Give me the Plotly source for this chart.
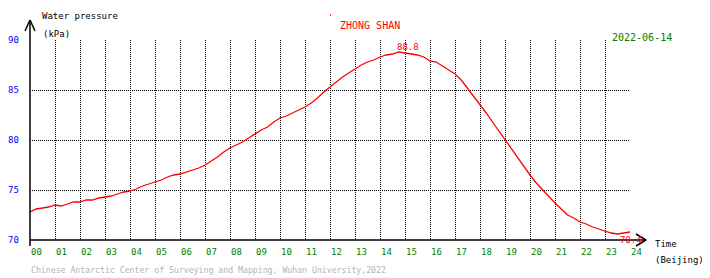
import plotly.graph_objects as go

# ---- data ----
hours = [i * 0.25 for i in range(97)]
pressure = [
    72.8, 73.1, 73.2, 73.3,
    73.5, 73.4, 73.6, 73.8,
    73.8, 74.0, 74.0, 74.2,
    74.3, 74.4, 74.6, 74.8,
    74.9, 75.1, 75.4, 75.6,
    75.8, 76.0, 76.3, 76.5,
    76.6, 76.8, 77.0, 77.2,
    77.5, 77.9, 78.3, 78.8,
    79.2, 79.5, 79.8, 80.2,
    80.6, 81.0, 81.3, 81.8,
    82.2, 82.4, 82.7, 83.0,
    83.3, 83.7, 84.2, 84.8,
    85.3, 85.8, 86.3, 86.7,
    87.1, 87.5, 87.8, 88.0,
    88.3, 88.5, 88.6, 88.8,
    88.7, 88.6, 88.5, 88.3,
    87.9, 87.8, 87.4, 87.0,
    86.6, 86.0, 85.2, 84.4,
    83.5, 82.7, 81.8, 80.9,
    80.0, 79.1, 78.3, 77.3,
    76.5, 75.7, 75.0, 74.3,
    73.7, 73.1, 72.5, 72.2,
    71.8, 71.6, 71.3, 71.1,
    70.9, 70.7, 70.6, 70.7,
    70.8,
]
hour_labels = ["%02d" % h for h in range(25)]
y_ticks = [70, 75, 80, 85, 90]
max_label = "88.8"
min_label = "70.4"
station = "ZHONG SHAN"
date_text = "2022-06-14"
footer = "Chinese Antarctic Center of Surveying and Mapping, Wuhan University,2022"

W, H = 710, 278
def px(x):
    return x / W
def py(y):
    return 1 - y / H

FONT = "DejaVu Sans Mono"

fig = go.Figure()
fig.add_trace(go.Scatter(x=hours, y=pressure, mode="lines",
                         line=dict(color="#ff0000", width=1.3),
                         hoverinfo="skip", showlegend=False))

ann = []
# hour labels
for h, lab in enumerate(hour_labels):
    ann.append(dict(x=h, xref="x", y=py(252), yref="paper", text=lab,
                    showarrow=False, xanchor="left", yanchor="middle", xshift=-1,
                    font=dict(family=FONT, size=9, color="#008000")))
# y labels
for v in y_ticks:
    ann.append(dict(x=px(21), xref="paper", y=v, yref="y", text=str(v),
                    showarrow=False, xanchor="right", yanchor="middle",
                    font=dict(family=FONT, size=9, color="#0000ff")))

def txt(x, y, t, color="black", size=9, xa="left"):
    ann.append(dict(x=px(x), xref="paper", y=py(y), yref="paper", text=t,
                    showarrow=False, xanchor=xa, yanchor="middle",
                    font=dict(family=FONT, size=size, color=color)))

txt(40, 16, "Water pressure")
txt(41, 34, "(kPa)")
txt(338, 25, station, color="#ff0000", size=10)
txt(610, 37, date_text, color="#008000", size=10)
txt(653, 244, "Time")
txt(653, 260, "(Beijing)")
txt(29, 270, footer, color="#b4b4b4", size=8.2)

# extreme labels
imax = pressure.index(max(pressure))
imin = pressure.index(min(pressure))
ann.append(dict(x=hours[imax], xref="x", y=py(47), yref="paper", text=max_label,
                showarrow=False, xanchor="center", yanchor="middle", xshift=9,
                font=dict(family=FONT, size=9, color="#ff0000")))
ann.append(dict(x=hours[imin], xref="x", y=py(240), yref="paper", text=min_label,
                showarrow=False, xanchor="center", yanchor="middle", xshift=13,
                font=dict(family=FONT, size=9, color="#ff0000")))

shapes = []
def line(x0, y0, x1, y1, color="black", width=1.5):
    shapes.append(dict(type="line", xref="paper", yref="paper",
                       x0=px(x0), y0=py(y0), x1=px(x1), y1=py(y1),
                       line=dict(color=color, width=width)))
# axes with arrows
line(30, 246, 30, 20)
line(30, 20, 25, 31)
line(30, 20, 35, 31)
line(30, 240, 646, 240)
line(646, 240, 636, 234)
line(646, 240, 636, 246)
# tiny red dot near the title
line(330, 15, 331, 15, color="#ff0000", width=1.5)

fig.update_layout(
    width=W, height=H,
    margin=dict(l=0, r=0, t=0, b=0),
    paper_bgcolor="white", plot_bgcolor="white",
    annotations=ann, shapes=shapes,
    xaxis=dict(domain=[px(30), px(630)], range=[0, 24], dtick=1, tick0=0,
               showgrid=True, gridcolor="black", gridwidth=1, griddash="1px,1px",
               showticklabels=False, zeroline=False, showline=False, ticks=""),
    yaxis=dict(domain=[py(240), py(40)], range=[70, 90], dtick=5, tick0=70,
               showgrid=True, gridcolor="black", gridwidth=1, griddash="1px,1px",
               showticklabels=False, zeroline=False, showline=False, ticks=""),
)

fig.write_html("out.html")
